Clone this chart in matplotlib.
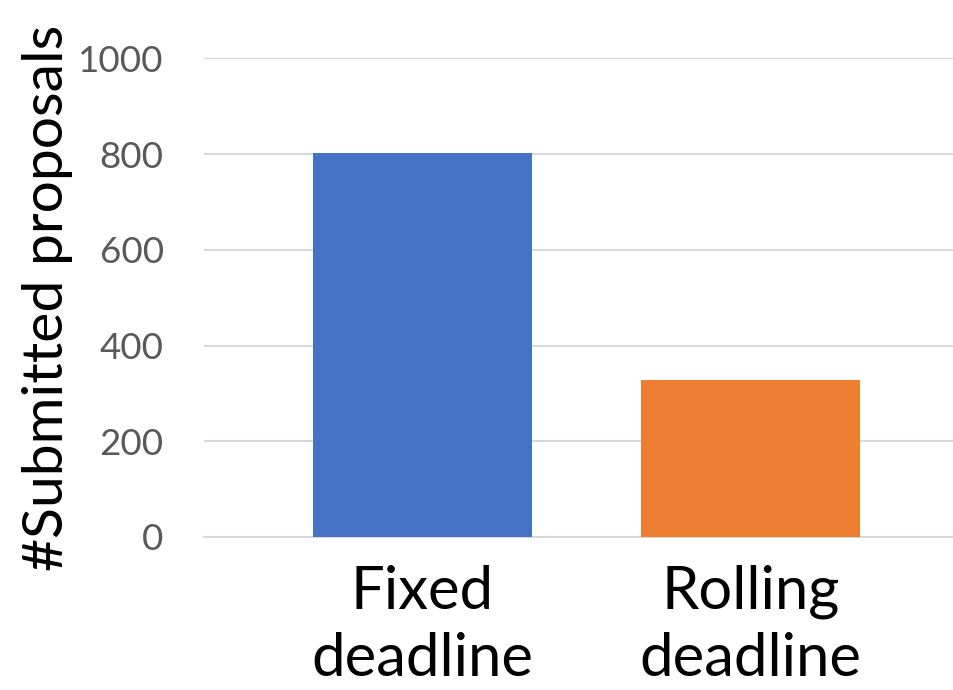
import matplotlib
matplotlib.use("Agg")
import matplotlib.pyplot as plt

categories = ["Fixed\ndeadline", "Rolling\ndeadline"]
proposals = [802, 328]
bar_colors = ["#4472C4", "#ED7D31"]
y_ticks = [0, 200, 400, 600, 800, 1000]

plt.rcParams["font.family"] = ["Lato", "DejaVu Sans"]

fig = plt.figure(figsize=(9.54, 6.90), dpi=100)
ax = fig.add_axes([204 / 954, 153 / 690, 750 / 954, (537 - 58.3) / 690])

x = list(range(len(categories)))
ax.bar(x, proposals, width=0.668, color=bar_colors, zorder=3)

ax.set_xlim(-0.666, 1.620)
ax.set_ylim(0, 1000)
ax.set_yticks(y_ticks)
ax.set_yticklabels([str(v) for v in y_ticks], fontsize=26.5, color="#595959")
ax.set_xticks(x)
ax.set_xticklabels(categories, fontsize=43, color="black", linespacing=1.3)

ax.grid(axis="y", color="#D9D9D9", linewidth=1.5, zorder=0)
for side in ["top", "right", "left"]:
    ax.spines[side].set_visible(False)
ax.spines["bottom"].set_color("#D9D9D9")
ax.spines["bottom"].set_linewidth(1.5)
ax.tick_params(axis="both", length=0)
ax.tick_params(axis="y", pad=29)
ax.tick_params(axis="x", pad=20)

ax.set_ylabel("#Submitted proposals", fontsize=41, color="black", labelpad=4)

fig.savefig("out.png", dpi=100)
